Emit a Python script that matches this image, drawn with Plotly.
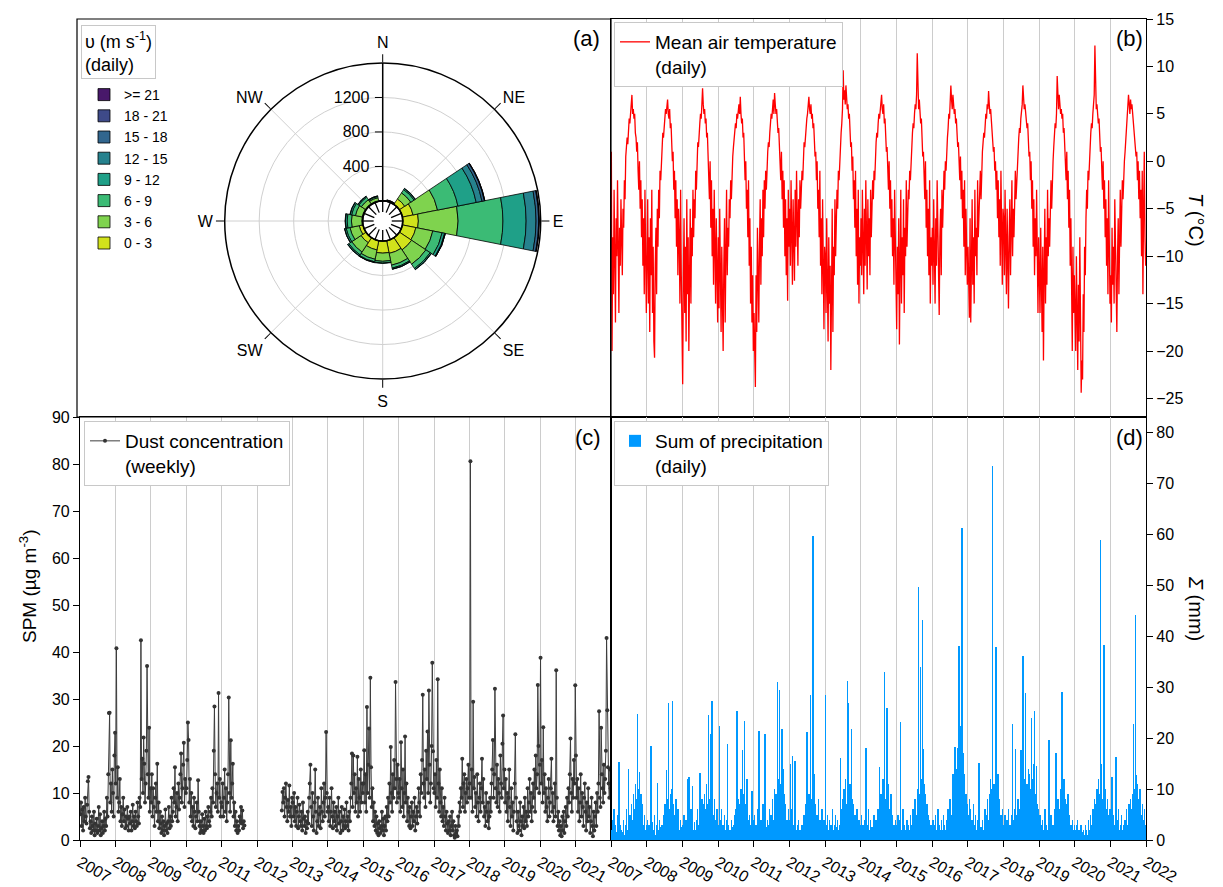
import math
import plotly.graph_objects as go

W, H = 1223, 887
FONT = "Liberation Sans, Arial, sans-serif"

# ---------------- data ----------------
years = list(range(2007, 2022))
year_ticks = list(range(2007, 2023))

dir_names = ["N", "NNE", "NE", "ENE", "E", "ESE", "SE", "SSE",
             "S", "SSW", "SW", "WSW", "W", "WNW", "NW", "NNW"]
dir_angles = [0, 22.5, 45, 67.5, 90, 112.5, 135, 157.5,
              180, 202.5, 225, 247.5, 270, 292.5, 315, 337.5]
compass_labels = ["N", "NE", "E", "SE", "S", "SW", "W", "NW"]
compass_angles = [0, 45, 90, 135, 180, 225, 270, 315]

speed_classes = ["0 - 3", "3 - 6", "6 - 9", "9 - 12", "12 - 15", "15 - 18", "18 - 21", ">= 21"]
speed_colors = ["#d2e21b", "#7fd34e", "#3bbb75", "#1fa088", "#26828e", "#31668e", "#3e4a89", "#48186a"]
#            N  NNE  NE  ENE   E  ESE   SE  SSE    S  SSW   SW  WSW    W  WNW   NW  NNW
wind_0_3   = [3, 10, 75, 126, 181, 160, 170, 150, 140, 110, 70, 45, 10, 10, 10, 8]
wind_3_6   = [2, 5, 85, 290, 461, 200, 200, 140, 95, 110, 130, 110, 120, 80, 55, 35]
wind_6_9   = [1, 2, 45, 241, 520, 110, 60, 35, 20, 30, 40, 45, 50, 45, 35, 15]
wind_9_12  = [0, 0, 15, 216, 269, 30, 15, 12, 5, 8, 15, 18, 20, 18, 12, 5]
wind_12_15 = [0, 0, 3, 69, 115, 8, 3, 2, 0, 2, 3, 2, 4, 3, 3, 2]
wind_15_18 = [0, 0, 0, 28, 31, 1, 0, 0, 0, 0, 0, 0, 0, 0, 0, 0]
wind_18_21 = [0, 0, 0, 5, 5, 0, 0, 0, 0, 0, 0, 0, 0, 0, 0, 0]
wind_21_up = [0, 0, 0, 1, 2, 0, 0, 0, 0, 0, 0, 0, 0, 0, 0, 0]
wind_by_class = [wind_0_3, wind_3_6, wind_6_9, wind_9_12,
                 wind_12_15, wind_15_18, wind_18_21, wind_21_up]

# mean air temperature (degC), one reading per week
temp_2007 = [1.0, -20, -8, -14, -3, -12, -17, -6, -10, -2, -13, -16, -7, -11, -4, -9, -12, -5, -7, -2, -4, 0.5, 1.5, 2.5, 1.8, 3.5,
             4.5, 4, 5.5, 6, 7, 5, 5.5, 4.5, 5, 3, 2.5, 1, 2, -1, -3, 0, -5, -2, -8, -4, -11, -6, -14, -3, -9, -16]
temp_2008 = [-10, -4, -15, -8, -18, -6, -12, -3, -16, -9, -19, -20.7, -11, -7, -14, -5, -9, -3, -6, -1, -2, 0.5, 1.5, 3, 2.5, 4,
             4.5, 5.5, 5, 6, 6.5, 5, 4.5, 5.5, 3.5, 4, 2, 0, 1, -3, -1, -6, -2, -9, -4, -12, -5, -8, -15, -3, -12, -18]
temp_2009 = [-23.5, -12, -6, -16, -9, -19, -4, -14, -8, -20, -11, -5, -15, -7, -10, -3, -8, -4, -6, -1, -3, 0, 2, 1.5, 3.5, 4,
             5, 4.5, 6, 7.7, 6, 5, 5.5, 4, 4.5, 2.5, 3, 0.5, -1, -4, 0, -7, -2, -10, -5, -13, -3, -9, -15, -6, -11, -17]
temp_2010 = [-8, -15.5, -5, -13, -18, -9, -14, -20, -11, -6, -17, -10, -3, -12, -7, -9, -4, -6, -2, -4, -1, 0.5, 1.5, 2.5, 3, 4,
             3.5, 5, 4.5, 5.5, 6, 5, 6.8, 5, 4, 4.5, 2.5, 3, 1, -2, 0, -5, -3, -8, -2, -11, -6, -15, -9, -17, -12, -20]
temp_2011 = [-16, -21, -23.8, -12, -18, -7, -14, -17, -9, -4, -13, -6, -10, -3, -8, -2, -5, -1, -3, 0, 1, 2, 1.5, 3, 4, 5,
             4.5, 5.5, 6.5, 5, 7.2, 6, 5, 5.5, 4, 3, 3.5, 1.5, 0, -2, 1, -4, -1, -7, -2, -10, -4, -12, -6, -14.7, -3, -9]
temp_2012 = [-5, -11, -2, -8, -13, -4, -7, -12.6, -3, -9, -1, -6, -11, -4, -8, -2, -5, -3, -1, -2, 0.5, 2, 1.5, 3, 3.5, 4.5,
             5, 6, 6.8, 5.5, 5, 6, 4.5, 5, 3.5, 4, 2, 0.5, 1, -2, 0, -5, -3, -8, -1, -11, -6, -14, -4, -12, -17.7, -9]
temp_2013 = [-10, -16, -6, -13, -19, -8, -15, -11, -22, -14, -5, -18, -9, -12, -4, -10, -7, -3, -5, -1, -2, 0.5, 2, 3, 4, 5.5,
             9.6, 6.5, 7.5, 6, 8, 6.5, 5.5, 6, 4.5, 5, 3, 1.5, 2, -1, 0.5, -4, -2, -7, -1, -10, -5, -13, -3, -15, -8, -11]
temp_2014 = [-6, -12, -3, -9, -14, -5, -11, -2, -8, -13.5, -4, -10, -6, -12, -3, -8, -5, -2, -4, -1, -2, 1, 2, 3, 2.5, 4,
             5, 4.5, 5.5, 6, 7, 5.5, 5, 6, 4, 4.5, 2.5, 1, 1.5, -1, -3, 0, -5, -2, -8, -4, -10, -6, -13, -3, -9, -16]
temp_2015 = [-17.7, -9, -14, -6, -19.3, -11, -3, -15, -8, -12, -4, -16, -7, -10, -2, -9, -5, -3, -4, -1, -2, 0.5, 2, 3, 4, 3.5,
             5, 6, 5.5, 7, 11.4, 6, 5.5, 6.5, 5, 4, 4.5, 2, 0.5, 1, -2, -4, 0, -7, -3, -10, -5, -12, -2, -15, -8, -11]
temp_2016 = [-7, -13, -4, -10, -15, -6, -11, -2, -9, -14, -16.2, -8, -5, -12, -3, -7, -4, -1, -3, 0, -1, 1.5, 2.5, 3.5, 5, 4.5,
             6, 8, 6.5, 5.5, 7, 6, 5, 5.5, 4, 4.5, 3, 1.5, 2, 0, -2, 0.5, -4, -1, -6, -3, -9, -2, -12, -5, -8, -13]
temp_2017 = [-9, -14, -16.5, -6, -17, -11, -4, -13, -8, -15, -3, -10, -7, -12, -2, -8, -5, -3, -1, -4, 0, 1, 2, 3, 2.5, 4,
             5, 4.5, 6, 5.5, 7.4, 6, 5, 5.5, 4, 3.5, 2, 1, 1.5, -1, 0, -3, -1, -6, -2, -8, -4, -11, -1, -7, -13, -5]
temp_2018 = [-6, -12, -3, -9, -14, -5, -10, -15.5, -8, -4, -12, -7, -2, -10, -5, -8, -3, -1, -4, -2, 0, 1, 2.5, 3.5, 3, 4.5,
             5, 6, 8, 6.5, 5.5, 6, 5, 4.5, 3.5, 4, 2, 0.5, 1, -2, 0, -5, -2, -9, -4, -12, -6, -10, -3, -14, -16, -8]
temp_2019 = [-11, -16, -7, -14, -18, -9, -21, -12, -5, -15, -8, -13, -3, -10, -6, -9, -4, -2, -5, -1, 0, 1.5, 2.5, 4, 3.5, 5,
             9, 6.5, 5.5, 7, 6, 5, 5.5, 4.5, 5, 3, 3.5, 1.5, 0, -2, 1, -4, -1, -7, -3, -11, -6, -14, -20, -9, -16, -12]
temp_2020 = [-15, -20, -10, -17, -22, -13, -19, -8, -16, -24.4, -21, -23, -14, -18, -9, -12, -6, -3, -5, -1, -2, 0.5, 2, 3, 4, 3.5,
             5, 6, 7, 12.2, 6.5, 5.5, 6, 5, 4, 4.5, 2.5, 1, 1.5, -1, -3, 0, -5, -2, -8, -4, -11, -6, -14, -2, -9, -15]
temp_2021 = [-12, -17, -7, -13, -9, -15, -4, -11, -16, -18, -10, -6, -14, -8, -3, -9, -5, -2, -4, -1, 0, 1, 2, 3, 4.5, 5.5,
             7, 6, 5, 6.5, 5.5, 6, 5, 4.5, 4, 3, 2, 0.5, 1, -2, 0, -4, -1, -6, -3, -10, -1, -14, -5, 1, -8, -11]
temp_by_year = [temp_2007, temp_2008, temp_2009, temp_2010, temp_2011, temp_2012, temp_2013, temp_2014,
                temp_2015, temp_2016, temp_2017, temp_2018, temp_2019, temp_2020, temp_2021]

# dust concentration SPM (ug m-3), weekly
dust_2007 = [5.5, 8, 3, 6.5, 2, 7, 4, 9, 5, 3.5, 7.5, 12.5, 13.4, 6, 2.5, 4, 1.5, 5, 3, 2, 6, 1, 3.5, 2, 4.5, 1.5,
             3, 7, 2, 5.5, 1, 2.5, 4, 1.5, 3, 6, 2, 4.5, 3, 9, 5, 14, 27, 27.1, 8, 12, 6, 15, 10, 5, 18, 22.8]
dust_2008 = [12, 40.8, 9, 15.5, 6, 8, 13, 4, 7, 3, 5.5, 9, 4, 6.5, 2.5, 5, 3, 7, 4.5, 2, 5, 3.5, 6, 2, 4, 7.5,
             3, 5, 2.5, 6, 4, 3, 8, 5, 3.5, 9, 7, 42.5, 13, 17.3, 10, 21.8, 16.2, 8, 12, 19, 37, 14, 9, 23.9, 6, 11]
dust_2009 = [8, 14, 5, 11, 7, 3, 9, 12, 6, 16.2, 4, 8, 2.5, 6, 3.5, 1.5, 5, 2, 4, 1, 3, 6.5, 2, 3.5, 1.5, 4,
             7, 2.5, 5, 3, 9, 4, 6, 11, 8, 15.5, 5, 7, 10, 4, 12, 6.5, 9, 14, 18.4, 8, 11, 16, 20.7, 7, 13, 10]
dust_2010 = [11, 17, 25, 21.3, 8, 13, 5, 10, 4, 7, 3, 9, 6, 2.5, 5, 8, 4, 12.7, 6, 3, 1.5, 4, 2, 5.5, 3, 1.5,
             4.5, 2, 6, 3, 2.5, 5, 7, 4, 3, 6, 9, 5, 11, 8, 19, 28.4, 14, 7, 10, 12, 6, 31.3, 9, 13, 5, 8]
dust_2011 = [7, 12, 5, 9, 15, 6, 11, 4, 8, 14, 30.3, 10, 6, 21.2, 9, 12, 16.2, 5, 8, 3, 6, 2, 4, 1.5, 3, 2,
             5, 4, 7, 3.5, 6.3, 2.5, 4, 3.1] + [None] * 18
dust_2012 = [None] * 36 + [6.3, 10.2, 8, 11, 5, 9, 12, 7, 4, 8.5, 6, 11.6, 5, 7, 3, 9]
dust_2013 = [8, 5, 10, 4, 7, 3, 6, 9, 2.5, 5, 7.5, 4, 3, 6, 2, 8, 4.5, 3, 5, 1.5, 4, 2.5, 6, 3.5, 9, 12,
             16, 7, 3, 10, 5, 2, 8, 15, 6, 1.5, 4, 9, 3, 5.5, 7, 2.5, 11, 6, 4, 8, 12, 5, 9, 23, 10, 6]
dust_2014 = [7, 4, 9, 3, 6, 11, 5, 2.5, 8, 4, 6, 3, 7, 2, 5, 9, 3.5, 6, 1.5, 4, 7, 2, 5, 3, 6.5, 2.5,
             4, 8, 3, 5, 2, 6, 4, 9, 12, 18.4, 7, 18, 10, 14, 6, 11, 8, 17.7, 5, 13, 9, 6, 15, 8, 12, 10]
dust_2015 = [12, 19.1, 8, 14, 6, 28.3, 10, 16, 23.7, 9, 34.5, 15.5, 7, 11, 4, 8, 3, 6, 2, 5, 1.5, 3.5, 1, 4, 2.5, 1.5,
             3, 6, 2, 4.5, 1, 3, 5, 2, 7, 4, 9, 5, 12, 8, 19.8, 10, 6, 14, 9, 17, 11, 33.6, 13, 8, 16, 10]
dust_2016 = [9, 13, 6, 20.8, 11, 7, 15, 5, 10, 22, 8, 12, 4, 9, 6, 3, 7, 2.5, 5, 8, 3, 6, 4, 9, 2, 5,
             7, 3.5, 6, 11, 8, 5, 14, 10, 17, 30.9, 12, 9, 15, 7, 19, 13, 23.1, 10, 31.8, 16, 8, 12, 20, 37.7, 18.9, 11]
dust_2017 = [10, 14, 7, 17, 9, 34.2, 12, 6, 15, 8, 5, 11, 4, 7, 3, 9, 5, 2, 6, 3.5, 1.5, 4, 2, 5, 1, 3,
             6, 2, 4, 1, 0.5, 3, 1.5, 2, 0.8, 5, 3, 8, 6, 11, 9, 17.3, 7, 12, 14, 6, 10, 13, 8, 11, 16, 9]
dust_2018 = [12, 80.6, 9, 15, 6, 29.4, 11, 13.4, 7, 10, 5, 14, 8, 4, 9, 12, 6, 11, 17.3, 8, 13, 5, 7, 3, 10, 6,
             4, 8, 2.5, 5, 9, 6, 12, 15, 21.3, 9, 14, 32.2, 11, 8, 16, 7, 13, 10, 6, 18, 12, 9, 20.5, 26.5, 11, 15]
dust_2019 = [8, 13, 6, 10, 4, 9, 15, 7, 3, 11, 5, 8, 2, 6, 12, 22.5, 9, 4, 1.5, 6, 3, 2, 8, 4, 1, 5,
             3, 7, 2.5, 9, 4, 6, 3, 11, 5, 8, 13, 6, 10, 4, 7, 12, 9, 15, 6, 18, 11, 14, 33, 20, 10, 16]
dust_2020 = [38.8, 12, 17, 8, 24, 10, 14, 6, 11, 7, 4, 9, 13, 5, 8, 11, 17.3, 6, 10, 4, 7, 12, 5, 36.1, 9, 3,
             6, 2, 4, 1, 3, 0.8, 5, 2, 6, 1.5, 4, 7, 3, 9, 5, 11, 8, 14, 21.6, 10, 6, 13, 9, 17, 12, 32.9]
dust_2021 = [18, 9, 13, 6, 11, 4, 8, 14, 5, 10, 7, 3, 9, 12, 6, 2, 8, 4, 11, 5, 7, 1.5, 4, 9, 3, 0.8,
             6, 2, 5, 8, 3, 10, 6, 12, 27.4, 9, 7, 23.9, 14, 11, 8, 16, 10, 13, 19, 43, 27.6, 15.5, 12, 9, 15, 11]
dust_by_year = [dust_2007, dust_2008, dust_2009, dust_2010, dust_2011, dust_2012, dust_2013, dust_2014,
                dust_2015, dust_2016, dust_2017, dust_2018, dust_2019, dust_2020, dust_2021]

# sum of precipitation (mm), one day per week
prec_2007 = [2, 0.5, 4, 1, 6, 0.3, 3, 1.5, 0, 5, 2, 15.4, 1, 3, 0.5, 2, 0.2, 1.5, 4, 0.5, 1, 3, 6, 2, 1, 14,
             3, 5, 1.5, 7, 4, 2, 9, 3, 6, 11, 5, 8, 24.8, 6, 10, 13.4, 4, 9, 2, 7, 3, 1, 5, 2, 0.5, 3]
prec_2008 = [1.5, 4, 0.5, 3, 2, 6, 18.4, 1, 3.5, 0.5, 2, 5, 1, 0.3, 3, 11.2, 2, 0.5, 4, 1, 2.5, 0.5, 3, 1.5, 5, 2,
             7, 4, 13.8, 3, 8, 26.9, 6, 4, 9, 5, 10, 27.3, 7, 3, 5, 2, 8, 4, 1.5, 6, 3, 0.5, 2, 4, 1, 2.5]
prec_2009 = [3, 1, 5, 0.5, 2, 4, 1.5, 12, 3, 12.4, 1, 2, 6, 0.5, 10.7, 2, 1, 3.5, 0.3, 2, 4, 1, 6, 2.5, 3, 13.2,
             5, 2, 8, 4, 7, 3, 9, 6, 5, 11, 7, 4, 24.6, 8, 6, 20.9, 10, 27.3, 5, 3, 8, 2, 4, 1, 6, 2]
prec_2010 = [3, 1, 22.3, 4, 2, 6, 0.5, 3, 1.5, 5, 2, 0.5, 4, 18.9, 1, 3, 0.5, 2, 1, 4, 0.3, 2.5, 1, 3, 5, 2,
             6, 25.3, 4, 8, 3, 7, 5, 10, 6, 17.6, 4, 9, 23.3, 7, 3, 6, 12, 4, 2, 5, 1, 3, 0.5, 9.6, 2, 4]
prec_2011 = [2, 5, 1, 3, 0.5, 6, 2, 21.5, 3, 1, 4, 0.5, 2, 7, 1.5, 3, 20.9, 1, 2.5, 0.5, 4, 1, 3, 6, 2, 5,
             3.5, 8, 4, 2, 10, 6, 9, 5, 31, 7, 12, 29.4, 8, 11, 6, 21.9, 14, 5, 9, 3, 7, 2, 4, 1, 6, 3]
prec_2012 = [4, 15, 2, 6, 16.6, 3, 1, 5, 15.6, 2, 0.5, 3, 1, 4, 0.5, 2, 1.5, 0.3, 3, 1, 2, 5, 1.5, 3, 7, 21.3,
             4, 6, 9, 3, 28.4, 8, 5, 11, 59.8, 6, 13, 4, 7, 2, 5, 3, 8, 1, 4, 0.5, 2, 6, 3, 1, 4, 2]
prec_2013 = [28.5, 3, 1, 5, 0.5, 2, 4, 1, 3, 0.3, 6, 1.5, 2, 0.5, 3, 5, 1, 2.5, 4, 0.5, 2, 3, 16.2, 6, 2, 8,
             4, 10, 5, 12, 7, 3, 31.2, 26.9, 9, 5, 11, 6, 21.9, 8, 4, 7, 2, 5, 1, 3, 6, 0.5, 2, 4, 1, 3]
prec_2014 = [2, 5, 1, 3, 0.5, 4, 2, 18, 1, 3, 0.5, 6, 2, 1, 4, 0.3, 2.5, 1, 3, 5, 1.5, 2, 4, 0.5, 3, 6,
             2, 14.3, 5, 9, 4, 7, 12, 6, 33.1, 8, 5, 10, 25.9, 7, 11, 4, 6, 3, 9, 2, 5, 1, 3, 0.5, 4, 2]
prec_2015 = [3, 1, 5, 2, 0.5, 4, 23.2, 2, 1, 6, 0.5, 3, 1.5, 2, 0.3, 4, 1, 3, 0.5, 2, 5, 1, 3, 2, 6, 4,
             2, 8, 5, 3, 10, 7, 49.8, 9, 6, 34, 12, 8, 43.3, 17.9, 11, 6, 9, 4, 7, 3, 5, 2, 4, 1, 3, 0.5]
prec_2016 = [2, 4, 1, 3, 0.5, 5, 2, 1, 6, 0.5, 3, 2, 1, 4, 0.3, 2, 5, 1, 3, 0.5, 2, 4, 1.5, 6, 2, 3,
             8, 5, 4, 10, 13, 7, 12, 18.3, 9, 14, 11, 18, 16, 38.2, 15, 22.3, 12, 61.2, 10, 17, 8, 13, 6, 9, 4, 7]
prec_2017 = [5, 2, 8, 3, 6, 1, 4, 2, 7, 0.5, 3, 5, 1, 2, 4, 0.5, 15.2, 3, 1, 2.5, 0.5, 4, 2, 1, 3, 6,
             2, 5, 8, 4, 3, 9, 6, 12, 7, 10, 73.4, 8, 11, 5, 14, 37.9, 9, 6, 13, 4, 8, 3, 5, 2, 6, 1]
prec_2018 = [3, 1, 5, 2, 0.5, 4, 1, 6, 2, 3, 0.5, 5, 2, 22.8, 4, 3, 6, 17.8, 2, 5, 1, 8, 3, 6, 4, 17.6,
             7, 5, 36.2, 9, 6, 12, 28.9, 8, 11, 7, 14, 9, 13, 6, 10, 24, 12, 8, 15, 25.3, 9, 5, 14.5, 7, 3, 6]
prec_2019 = [2, 5, 1, 3, 0.5, 4, 2, 1, 6, 0.5, 3, 1.5, 2, 4, 19.6, 3, 1, 5, 2, 0.5, 3, 1, 4, 6, 17.1, 2,
             5, 8, 3, 6, 4, 10, 7, 29.1, 9, 5, 12, 6, 8, 3, 7, 4, 9, 2, 5, 1, 3, 0.5, 4, 2, 1, 3]
prec_2020 = [2, 0.5, 3, 1, 4, 0.3, 2, 1, 0.5, 3, 1.5, 0.3, 2, 0.5, 1, 3, 0.5, 2, 1, 0.3, 4, 1.5, 2, 5, 3, 1,
             6, 2, 8, 4, 7, 3, 10, 6, 12, 5, 9, 59, 11, 15, 8, 7, 38.4, 18.6, 10, 6, 4, 8, 3, 5, 2, 6]
prec_2021 = [4, 2, 12.4, 1, 5, 3, 0.5, 2, 16.3, 4, 1, 6, 2, 0.5, 3, 1, 5, 2, 0.3, 3, 1, 4, 2, 6, 3, 1.5,
             5, 7, 2, 8, 4, 6, 9, 22.8, 10, 7, 44.2, 12.7, 5, 11, 6, 8, 3, 10, 5, 2, 7, 4, 1, 6, 3, 2]
prec_by_year = [prec_2007, prec_2008, prec_2009, prec_2010, prec_2011, prec_2012, prec_2013, prec_2014,
                prec_2015, prec_2016, prec_2017, prec_2018, prec_2019, prec_2020, prec_2021]


def weekly_series(per_year):
    xs, ys = [], []
    for yr, vals in zip(years, per_year):
        for w, v in enumerate(vals):
            xs.append(yr + (w + 0.5) / 52.0)
            ys.append(v)
    return xs, ys


temp_x, temp_y = weekly_series(temp_by_year)
dust_x, dust_y = weekly_series(dust_by_year)
prec_x, prec_y = weekly_series(prec_by_year)


# ---------------- layout helpers ----------------
def fx(px):
    return px / W


def fy(py):
    return 1 - py / H


LEFT_A, LEFT_C, MID_X, RIGHT = 77, 80, 611, 1146
TOP, MID_Y, BOTTOM = 19, 417, 840
GRID = "#cccccc"

fig = go.Figure()

# wind rose
for name, vals, col in zip(speed_classes, wind_by_class, speed_colors):
    fig.add_trace(go.Barpolar(
        r=vals, theta=dir_angles, width=[22.5] * len(dir_angles), name=name,
        marker=dict(color=col, line=dict(color="black", width=0.8)),
        subplot="polar", legend="legend"))

# temperature
fig.add_trace(go.Scatter(
    x=temp_x, y=temp_y, mode="lines", line=dict(color="#ff0000", width=1.3),
    name="Mean air temperature<br>(daily)", xaxis="x", yaxis="y", legend="legend2"))

# dust
fig.add_trace(go.Scatter(
    x=dust_x, y=dust_y, mode="lines+markers", connectgaps=False,
    line=dict(color="#3d3d3d", width=1), marker=dict(color="#333333", size=4),
    name="Dust concentration<br>(weekly)", xaxis="x2", yaxis="y2", legend="legend3"))

# precipitation
fig.add_trace(go.Bar(
    x=prec_x, y=prec_y, width=0.6 / 52.0, marker=dict(color="#0099ff", line=dict(width=0)),
    name="Sum of precipitation<br>(daily)", xaxis="x3", yaxis="y3", legend="legend4"))

axis_common = dict(showline=True, mirror=True, linecolor="black", linewidth=1.1, automargin=False,
                   zeroline=False, tickfont=dict(size=16, color="black", family=FONT),
                   ticklen=6, tickcolor="black", tickwidth=1.2)
grid_common = dict(range=[2007, 2022], tickmode="array",
                   showgrid=True, gridcolor=GRID, gridwidth=1.2, **axis_common)

hole = 0.127
cx, cy, R = 382.7, 221.0, 158.0

fig.update_layout(
    width=W, height=H, autosize=False,
    margin=dict(l=0, r=0, t=0, b=0, pad=0, autoexpand=False),
    paper_bgcolor="white", plot_bgcolor="white",
    font=dict(family=FONT, size=16, color="black"),
    bargap=0,
    xaxis=dict(domain=[fx(MID_X), fx(RIGHT)], anchor="y", showticklabels=False, ticks="",
               tickvals=year_ticks, **grid_common),
    yaxis=dict(domain=[fy(MID_Y), fy(TOP)], anchor="x", side="right", range=[-26.95, 15],
               tickvals=[-25, -20, -15, -10, -5, 0, 5, 10, 15], ticks="outside", showgrid=False,
               **axis_common),
    xaxis2=dict(domain=[fx(LEFT_C), fx(MID_X)], anchor="y2", ticks="outside", tickangle=30,
                tickvals=year_ticks[:-1], ticktext=[str(y) for y in year_ticks[:-1]], **grid_common),
    yaxis2=dict(domain=[fy(BOTTOM), fy(MID_Y)], anchor="x2", range=[0, 90], dtick=10,
                ticks="outside", showgrid=False, **axis_common),
    xaxis3=dict(domain=[fx(MID_X), fx(RIGHT)], anchor="y3", ticks="outside", tickangle=30,
                tickvals=year_ticks, ticktext=[str(y) for y in year_ticks], **grid_common),
    yaxis3=dict(domain=[fy(BOTTOM), fy(MID_Y)], anchor="x3", side="right", range=[0, 83.1],
                dtick=10, ticks="outside", showgrid=False, **axis_common),
    polar=dict(
        domain=dict(x=[fx(cx - R), fx(cx + R)], y=[fy(cy + R), fy(cy - R)]),
        hole=hole, bgcolor="rgba(0,0,0,0)", barmode="stack",
        radialaxis=dict(range=[0, 1600], tickvals=[400, 800, 1200], angle=90, side="counterclockwise",
                        ticks="outside", ticklen=7, tickcolor="black", showline=True, linecolor="black",
                        linewidth=1.5, gridcolor="#d0d0d0", tickangle=90,
                        tickfont=dict(size=16, color="black", family=FONT)),
        angularaxis=dict(direction="clockwise", rotation=90, thetaunit="degrees",
                         tickmode="array", tickvals=compass_angles, ticktext=compass_labels,
                         ticks="outside", ticklen=8, tickcolor="black", showline=True,
                         linecolor="black", linewidth=1.5, gridcolor="#d0d0d0",
                         tickfont=dict(size=16, color="black", family=FONT))),
    legend=dict(x=fx(84), y=fy(79), xanchor="left", yanchor="top", traceorder="reversed",
                bgcolor="rgba(0,0,0,0)", borderwidth=0, font=dict(size=14, family=FONT),
                tracegroupgap=0, itemclick=False),
    legend2=dict(x=fx(614), y=fy(22), xanchor="left", yanchor="top", bgcolor="white",
                 bordercolor="#c8c8c8", borderwidth=1, font=dict(size=19, family=FONT), valign="top"),
    legend3=dict(x=fx(84), y=fy(421), xanchor="left", yanchor="top", bgcolor="white",
                 bordercolor="#c8c8c8", borderwidth=1, font=dict(size=19, family=FONT), valign="top"),
    legend4=dict(x=fx(614), y=fy(421), xanchor="left", yanchor="top", bgcolor="white",
                 bordercolor="#c8c8c8", borderwidth=1, font=dict(size=19, family=FONT), valign="top"),
)

# panel (a) frame
shapes = [dict(type="rect", xref="paper", yref="paper", x0=fx(LEFT_A), x1=fx(MID_X),
               y0=fy(MID_Y), y1=fy(TOP), line=dict(color="black", width=1.2))]
# wind-rose calm circle with inner ticks
rh = R * hole
shapes.append(dict(type="circle", xref="paper", yref="paper", x0=fx(cx - rh), x1=fx(cx + rh),
                   y0=fy(cy + rh), y1=fy(cy - rh), line=dict(color="black", width=1.5)))
for a in dir_angles:
    t = math.radians(a)
    r_in = rh - 11
    shapes.append(dict(type="line", xref="paper", yref="paper",
                       x0=fx(cx + rh * math.sin(t)), y0=fy(cy - rh * math.cos(t)),
                       x1=fx(cx + r_in * math.sin(t)), y1=fy(cy - r_in * math.cos(t)),
                       line=dict(color="black", width=1.3)))
fig.update_layout(shapes=shapes)

ann = []
for lab, px, py in [("(a)", 586, 38), ("(b)", 1129, 38), ("(c)", 588, 438), ("(d)", 1129, 438)]:
    ann.append(dict(text=lab, x=fx(px), y=fy(py), xref="paper", yref="paper", showarrow=False,
                    xanchor="center", yanchor="middle", font=dict(size=22, family=FONT)))
ann.append(dict(text="υ (m s<sup>-1</sup>)<br>(daily)", x=fx(81), y=fy(25), xref="paper", yref="paper",
                showarrow=False, xanchor="left", yanchor="top", align="left",
                bordercolor="#c8c8c8", borderwidth=1, borderpad=3, bgcolor="white",
                font=dict(size=18, family=FONT)))
ann.append(dict(text="<i>T</i> (°C)", x=fx(1196), y=fy(220), xref="paper", yref="paper",
                xanchor="center", yanchor="middle",
                showarrow=False, textangle=90, font=dict(size=20, family=FONT)))
ann.append(dict(text="<i>Σ</i> (mm)", x=fx(1196), y=fy(608), xref="paper", yref="paper",
                xanchor="center", yanchor="middle",
                showarrow=False, textangle=90, font=dict(size=20, family=FONT)))
ann.append(dict(text="SPM (µg m<sup>-3</sup>)", x=fx(28), y=fy(586), xref="paper", yref="paper",
                xanchor="center", yanchor="middle",
                showarrow=False, textangle=-90, font=dict(size=19, family=FONT)))
fig.update_layout(annotations=ann)

fig.write_html("out.html")
